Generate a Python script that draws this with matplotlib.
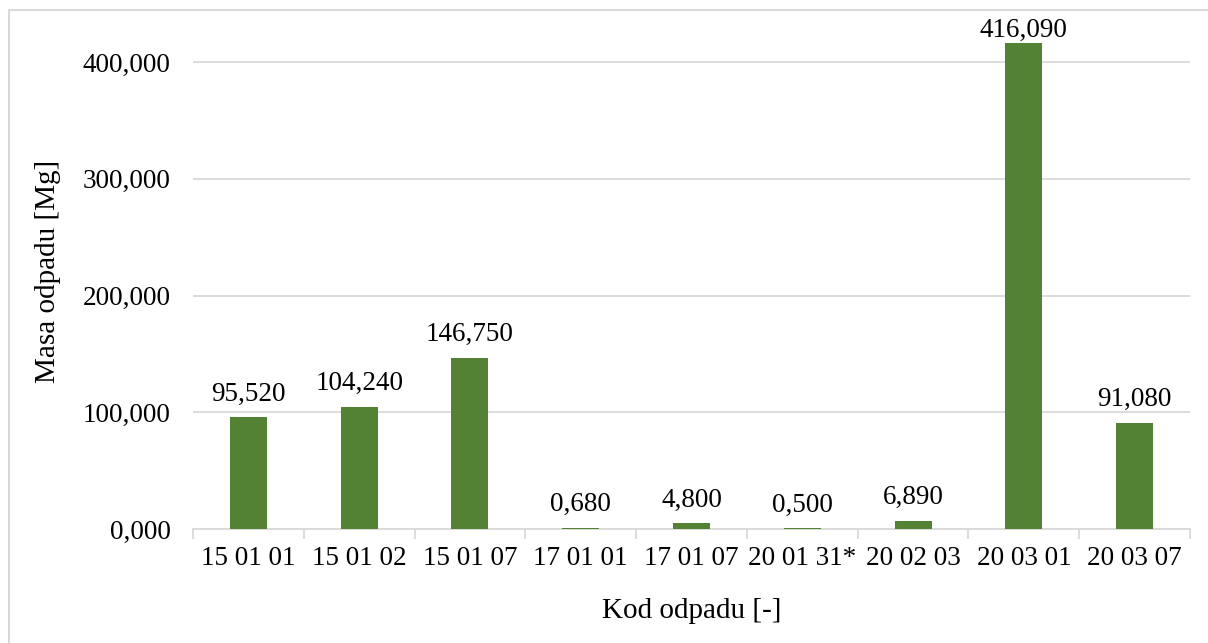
import matplotlib
matplotlib.use("Agg")
import matplotlib.pyplot as plt
from matplotlib.patches import Rectangle
import numpy as np

# dane z wykresu
kody = ['15 01 01', '15 01 02', '15 01 07', '17 01 01', '17 01 07',
        '20 01 31*', '20 02 03', '20 03 01', '20 03 07']
masa = [95.520, 104.240, 146.750, 0.680, 4.800, 0.500, 6.890, 416.090, 91.080]
yticks = [0, 100, 200, 300, 400]

plt.rcParams['font.family'] = ['Liberation Serif', 'DejaVu Serif']

W, H = 1208, 643
fig = plt.figure(figsize=(W / 100, H / 100), dpi=100)

# ramka wykresu
fig.patches.append(Rectangle((9 / W, -0.05), 1.1, 1 - 10 / H + 0.05,
                             transform=fig.transFigure, fill=False,
                             edgecolor='#d9d9d9', linewidth=1.5))

ax = fig.add_axes([193 / W, 1 - 529 / H, (1190 - 193) / W, (529 - 13) / H])

x = np.arange(len(kody))
ax.bar(x, masa, width=0.334, color='#548235', zorder=3)

# etykiety danych - jak w Excelu, nad słupkiem, przycięte do obszaru wykresu
for xi, v in zip(x, masa):
    txt = f'{v:.3f}'.replace('.', ',')
    ax.text(xi, min(v + 14.5, 421.5), txt, ha='center', va='baseline',
            fontsize=19.5, zorder=4)

ax.set_xlim(-0.5, len(kody) - 0.5)
ax.set_ylim(0, 442)
ax.set_yticks(yticks)
ax.set_yticklabels([f'{t},000' for t in yticks], fontsize=19.5)
ax.yaxis.grid(True, color='#d9d9d9', linewidth=1.3, zorder=0)

ax.set_xticks(x)
ax.set_xticklabels(kody, fontsize=19.5)
ax.set_xticks(np.arange(len(kody) + 1) - 0.5, minor=True)
ax.tick_params(axis='x', which='major', length=0, pad=12)
ax.tick_params(axis='x', which='minor', length=7, color='#d9d9d9', width=1.3)
ax.tick_params(axis='y', length=0, pad=16)

for s in ['top', 'right', 'left']:
    ax.spines[s].set_visible(False)
ax.spines['bottom'].set_color('#d9d9d9')
ax.spines['bottom'].set_linewidth(1.3)

ax.set_ylabel('Masa odpadu [Mg]', fontsize=21, labelpad=16)
ax.set_xlabel('Kod odpadu [-]', fontsize=21, labelpad=20)

fig.savefig('out.png', dpi=100)
